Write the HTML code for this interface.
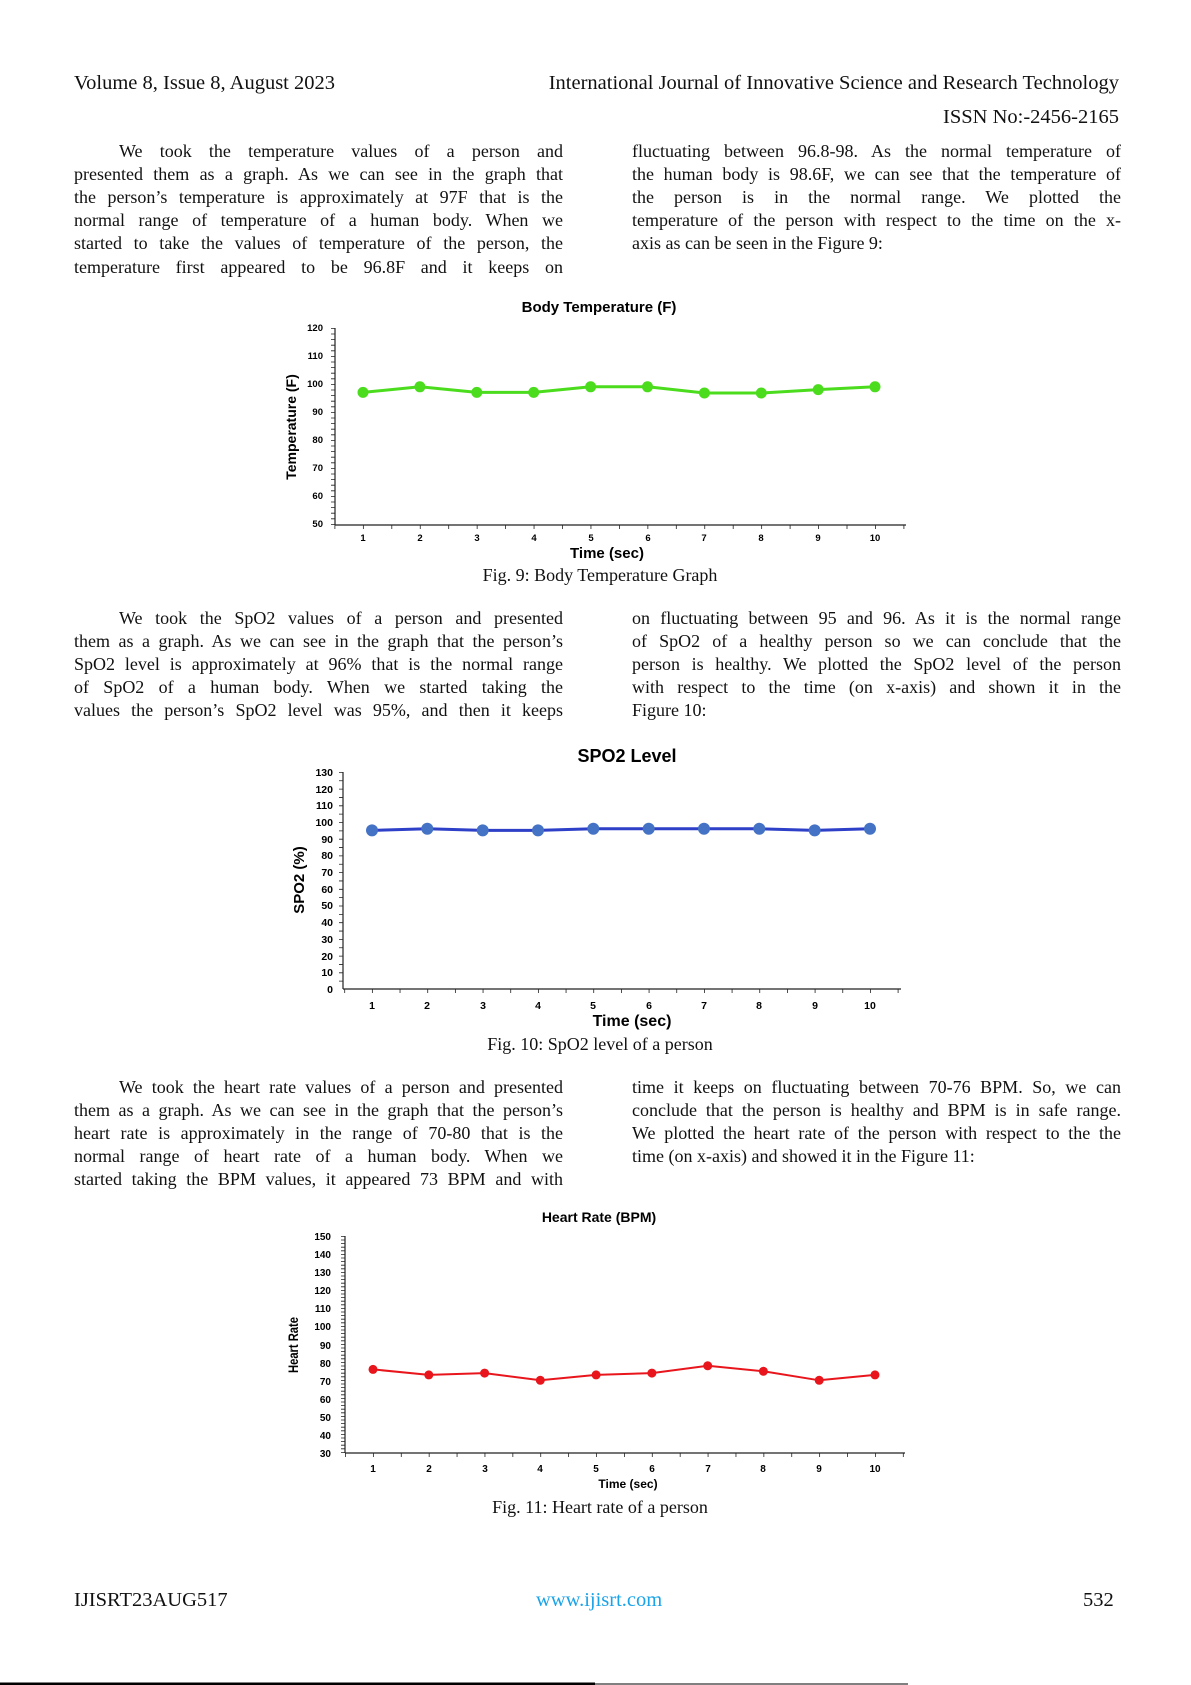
<!DOCTYPE html>
<html><head><meta charset="utf-8"><style>
html,body{margin:0;padding:0;background:#fff}
body{width:1191px;height:1685px;position:relative;overflow:hidden;font-family:"Liberation Serif",serif;color:#111}
.l{position:absolute;font-size:18px;line-height:23px;height:23px;white-space:nowrap;overflow:visible}
.h{font-size:20.5px}
.j{text-align:justify;text-align-last:justify;white-space:normal}
.c{position:absolute;font-size:18px;text-align:center;white-space:nowrap}
svg{position:absolute;left:0;top:0}
</style></head><body>
<div class="l h" style="left:74px;top:72px">Volume 8, Issue 8, August 2023</div>
<div class="l h" style="left:500px;top:72px;width:619px;text-align:right">International Journal of Innovative Science and Research Technology</div>
<div class="l h" style="left:560px;top:106px;width:559px;text-align:right">ISSN No:-2456-2165</div>

<div class="l j" style="left:119px;width:444px;top:140px">We took the temperature values of a person and</div>
<div class="l j" style="left:74px;width:489px;top:163px">presented them as a graph. As we can see in the graph that</div>
<div class="l j" style="left:74px;width:489px;top:186px">the person’s temperature is approximately at 97F that is the</div>
<div class="l j" style="left:74px;width:489px;top:209px">normal range of temperature of a human body. When we</div>
<div class="l j" style="left:74px;width:489px;top:232px">started to take the values of temperature of the person, the</div>
<div class="l j" style="left:74px;width:489px;top:256px">temperature first appeared to be 96.8F and it keeps on</div>

<div class="l j" style="left:632px;width:489px;top:140px">fluctuating between 96.8-98. As the normal temperature of</div>
<div class="l j" style="left:632px;width:489px;top:163px">the human body is 98.6F, we can see that the temperature of</div>
<div class="l j" style="left:632px;width:489px;top:186px">the person is in the normal range. We plotted the</div>
<div class="l j" style="left:632px;width:489px;top:209px">temperature of the person with respect to the time on the x-</div>
<div class="l" style="left:632px;top:232px">axis as can be seen in the Figure 9:</div>

<div class="c" style="left:400px;width:400px;top:565px">Fig. 9: Body Temperature Graph</div>

<div class="l j" style="left:119px;width:444px;top:607px">We took the SpO2 values of a person and presented</div>
<div class="l j" style="left:74px;width:489px;top:630px">them as a graph. As we can see in the graph that the person’s</div>
<div class="l j" style="left:74px;width:489px;top:653px">SpO2 level is approximately at 96% that is the normal range</div>
<div class="l j" style="left:74px;width:489px;top:676px">of SpO2 of a human body. When we started taking the</div>
<div class="l j" style="left:74px;width:489px;top:699px">values the person’s SpO2 level was 95%, and then it keeps</div>

<div class="l j" style="left:632px;width:489px;top:607px">on fluctuating between 95 and 96. As it is the normal range</div>
<div class="l j" style="left:632px;width:489px;top:630px">of SpO2 of a healthy person so we can conclude that the</div>
<div class="l j" style="left:632px;width:489px;top:653px">person is healthy. We plotted the SpO2 level of the person</div>
<div class="l j" style="left:632px;width:489px;top:676px">with respect to the time (on x-axis) and shown it in the</div>
<div class="l" style="left:632px;top:699px">Figure 10:</div>

<div class="c" style="left:400px;width:400px;top:1034px">Fig. 10: SpO2 level of a person</div>

<div class="l j" style="left:119px;width:444px;top:1076px">We took the heart rate values of a person and presented</div>
<div class="l j" style="left:74px;width:489px;top:1099px">them as a graph. As we can see in the graph that the person’s</div>
<div class="l j" style="left:74px;width:489px;top:1122px">heart rate is approximately in the range of 70-80 that is the</div>
<div class="l j" style="left:74px;width:489px;top:1145px">normal range of heart rate of a human body. When we</div>
<div class="l j" style="left:74px;width:489px;top:1168px">started taking the BPM values, it appeared 73 BPM and with</div>

<div class="l j" style="left:632px;width:489px;top:1076px">time it keeps on fluctuating between 70-76 BPM. So, we can</div>
<div class="l j" style="left:632px;width:489px;top:1099px">conclude that the person is healthy and BPM is in safe range.</div>
<div class="l j" style="left:632px;width:489px;top:1122px">We plotted the heart rate of the person with respect to the the</div>
<div class="l" style="left:632px;top:1145px">time (on x-axis) and showed it in the Figure 11:</div>

<div class="c" style="left:400px;width:400px;top:1497px">Fig. 11: Heart rate of a person</div>

<div class="l h" style="left:74px;top:1589px">IJISRT23AUG517</div>
<div class="l h" style="left:536px;top:1589px;color:#1aa3e8">www.ijisrt.com</div>
<div class="l h" style="left:1083px;top:1589px">532</div>

<svg width="1191" height="1685" font-family="Liberation Sans, sans-serif" font-weight="bold">
<!-- Chart 1 -->
<text x="599" y="312" font-size="15" text-anchor="middle">Body Temperature (F)</text>
<g stroke="#222" fill="none">
<line x1="335" y1="328" x2="335" y2="525" stroke-width="1.2"/>
<line x1="335" y1="525" x2="906" y2="525" stroke-width="1.2"/>
<line x1="333" y1="328" x2="333" y2="525" stroke-width="4" stroke-dasharray="0.8 4.8"/>
<line x1="334.5" y1="527" x2="906" y2="527" stroke-width="4" stroke-dasharray="0.8 27.65"/>
</g>
<g font-size="9.5" text-anchor="end">
<text x="323" y="331">120</text><text x="323" y="359">110</text><text x="323" y="387">100</text><text x="323" y="415">90</text><text x="323" y="443">80</text><text x="323" y="471">70</text><text x="323" y="499">60</text><text x="323" y="527">50</text>
</g>
<g font-size="9.5" text-anchor="middle">
<text x="363" y="541">1</text><text x="420" y="541">2</text><text x="477" y="541">3</text><text x="534" y="541">4</text><text x="591" y="541">5</text><text x="648" y="541">6</text><text x="704" y="541">7</text><text x="761" y="541">8</text><text x="818" y="541">9</text><text x="875" y="541">10</text>
</g>
<text x="607" y="558" font-size="15" text-anchor="middle">Time (sec)</text>
<text transform="translate(296,427) rotate(-90)" font-size="14" text-anchor="middle">Temperature (F)</text>
<polyline fill="none" stroke="#4cdc1e" stroke-width="3" points="363,392.4 419.9,386.8 476.8,392.4 533.7,392.4 590.6,386.8 647.5,386.8 704.4,393 761.3,393 818.2,389.6 875,386.8"/>
<g fill="#4cdc1e">
<circle cx="363" cy="392.4" r="5.5"/><circle cx="419.9" cy="386.8" r="5.5"/><circle cx="476.8" cy="392.4" r="5.5"/><circle cx="533.7" cy="392.4" r="5.5"/><circle cx="590.6" cy="386.8" r="5.5"/><circle cx="647.5" cy="386.8" r="5.5"/><circle cx="704.4" cy="393" r="5.5"/><circle cx="761.3" cy="393" r="5.5"/><circle cx="818.2" cy="389.6" r="5.5"/><circle cx="875" cy="386.8" r="5.5"/>
</g>

<!-- Chart 2 -->
<text x="627" y="762" font-size="18" text-anchor="middle">SPO2 Level</text>
<g stroke="#222" fill="none">
<line x1="343" y1="772" x2="343" y2="989" stroke-width="1.2"/>
<line x1="343" y1="989" x2="901" y2="989" stroke-width="1.2"/>
<line x1="341" y1="772" x2="341" y2="989" stroke-width="4" stroke-dasharray="0.8 7.55"/>
<line x1="344.3" y1="991" x2="901" y2="991" stroke-width="4" stroke-dasharray="0.8 26.87"/>
</g>
<g font-size="10.5" text-anchor="end">
<text x="333" y="776">130</text><text x="333" y="793">120</text><text x="333" y="809">110</text><text x="333" y="826">100</text><text x="333" y="843">90</text><text x="333" y="859">80</text><text x="333" y="876">70</text><text x="333" y="893">60</text><text x="333" y="909">50</text><text x="333" y="926">40</text><text x="333" y="943">30</text><text x="333" y="960">20</text><text x="333" y="976">10</text><text x="333" y="993">0</text>
</g>
<g font-size="10.5" text-anchor="middle">
<text x="372" y="1009">1</text><text x="427" y="1009">2</text><text x="483" y="1009">3</text><text x="538" y="1009">4</text><text x="593" y="1009">5</text><text x="649" y="1009">6</text><text x="704" y="1009">7</text><text x="759" y="1009">8</text><text x="815" y="1009">9</text><text x="870" y="1009">10</text>
</g>
<text x="632" y="1026" font-size="16" text-anchor="middle">Time (sec)</text>
<text transform="translate(304,880) rotate(-90)" font-size="15" text-anchor="middle">SPO2 (%)</text>
<polyline fill="none" stroke="#2e3fc8" stroke-width="3" points="372,830.4 427.3,828.8 482.7,830.4 538,830.4 593.3,828.8 648.7,828.8 704,828.8 759.3,828.8 814.7,830.4 870,828.8"/>
<g fill="#4472c4">
<circle cx="372" cy="830.4" r="6"/><circle cx="427.3" cy="828.8" r="6"/><circle cx="482.7" cy="830.4" r="6"/><circle cx="538" cy="830.4" r="6"/><circle cx="593.3" cy="828.8" r="6"/><circle cx="648.7" cy="828.8" r="6"/><circle cx="704" cy="828.8" r="6"/><circle cx="759.3" cy="828.8" r="6"/><circle cx="814.7" cy="830.4" r="6"/><circle cx="870" cy="828.8" r="6"/>
</g>

<!-- Chart 3 -->
<text x="599" y="1222" font-size="14" text-anchor="middle">Heart Rate (BPM)</text>
<g stroke="#222" fill="none">
<line x1="345" y1="1236" x2="345" y2="1453" stroke-width="1.2"/>
<line x1="345" y1="1453" x2="905" y2="1453" stroke-width="1.2"/>
<line x1="343" y1="1236" x2="343" y2="1453" stroke-width="4" stroke-dasharray="0.8 2.8"/>
<line x1="345.1" y1="1455" x2="905" y2="1455" stroke-width="4" stroke-dasharray="0.8 27.09"/>
</g>
<g font-size="10" text-anchor="end">
<text x="331" y="1240">150</text><text x="331" y="1258">140</text><text x="331" y="1276">130</text><text x="331" y="1294">120</text><text x="331" y="1312">110</text><text x="331" y="1330">100</text><text x="331" y="1349">90</text><text x="331" y="1367">80</text><text x="331" y="1385">70</text><text x="331" y="1403">60</text><text x="331" y="1421">50</text><text x="331" y="1439">40</text><text x="331" y="1457">30</text>
</g>
<g font-size="10" text-anchor="middle">
<text x="373" y="1472">1</text><text x="429" y="1472">2</text><text x="485" y="1472">3</text><text x="540" y="1472">4</text><text x="596" y="1472">5</text><text x="652" y="1472">6</text><text x="708" y="1472">7</text><text x="763" y="1472">8</text><text x="819" y="1472">9</text><text x="875" y="1472">10</text>
</g>
<text x="628" y="1488" font-size="12" text-anchor="middle">Time (sec)</text>
<text transform="translate(298,1345) rotate(-90) scale(0.8,1)" font-size="14" text-anchor="middle">Heart Rate</text>
<polyline fill="none" stroke="#e8161c" stroke-width="2" points="373,1369.4 428.8,1374.9 484.6,1373.1 540.3,1380.3 596.1,1374.9 651.9,1373.1 707.7,1365.8 763.4,1371.3 819.2,1380.3 875,1374.9"/>
<g fill="#e8161c">
<circle cx="373" cy="1369.4" r="4.5"/><circle cx="428.8" cy="1374.9" r="4.5"/><circle cx="484.6" cy="1373.1" r="4.5"/><circle cx="540.3" cy="1380.3" r="4.5"/><circle cx="596.1" cy="1374.9" r="4.5"/><circle cx="651.9" cy="1373.1" r="4.5"/><circle cx="707.7" cy="1365.8" r="4.5"/><circle cx="763.4" cy="1371.3" r="4.5"/><circle cx="819.2" cy="1380.3" r="4.5"/><circle cx="875" cy="1374.9" r="4.5"/>
</g>

<line x1="0" y1="1684" x2="595" y2="1684" stroke="#000" stroke-width="3"/>
<line x1="595" y1="1684" x2="908" y2="1684" stroke="#000" stroke-width="1"/>
</svg>
</body></html>
